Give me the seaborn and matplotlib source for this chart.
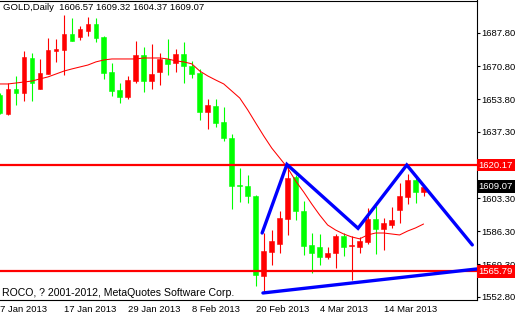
import numpy as np
import pandas as pd
import matplotlib
matplotlib.use("Agg")
import matplotlib.pyplot as plt
import seaborn as sns

# ---------------- data ----------------
dates = pd.bdate_range("2013-01-07", periods=54)
opens = [1656.1, 1646.3, 1659.1, 1657.1, 1675.0, 1659.1, 1666.8, 1678.6, 1679.1, 1687.3,
         1685.8, 1688.8, 1692.4, 1685.8, 1667.8, 1658.6, 1655.0, 1663.2, 1676.5, 1663.2,
         1667.8, 1674.5, 1672.4, 1677.0, 1670.9, 1667.3, 1647.4, 1650.4, 1642.2, 1634.0,
         1610.0, 1609.5, 1604.4, 1563.4, 1575.7, 1579.8, 1592.6, 1614.1, 1596.7, 1579.3,
         1578.3, 1573.1, 1575.2, 1583.9, 1578.8, 1578.3, 1580.8, 1592.6, 1587.5, 1589.5,
         1597.2, 1603.9, 1612.5, 1606.57]
highs = [1657.1, 1662.2, 1665.8, 1678.6, 1677.6, 1674.5, 1685.2, 1684.7, 1697.0, 1695.5,
         1691.4, 1696.0, 1695.5, 1686.3, 1672.4, 1662.2, 1665.8, 1683.7, 1680.6, 1682.2,
         1677.6, 1684.7, 1679.6, 1683.2, 1673.5, 1669.4, 1654.0, 1654.0, 1649.9, 1636.1,
         1618.7, 1615.1, 1604.9, 1585.4, 1586.9, 1596.7, 1620.5, 1615.1, 1601.8, 1585.4,
         1584.9, 1578.3, 1584.9, 1585.4, 1583.9, 1583.4, 1598.2, 1599.2, 1593.1, 1598.7,
         1611.0, 1615.6, 1615.1, 1609.32]
lows = [1646.3, 1645.8, 1650.9, 1653.0, 1653.0, 1659.1, 1666.8, 1673.0, 1666.3, 1683.7,
        1684.2, 1686.3, 1683.2, 1664.3, 1655.5, 1652.0, 1654.0, 1662.2, 1657.6, 1659.1,
        1661.2, 1666.3, 1667.8, 1662.2, 1664.8, 1643.3, 1638.7, 1639.7, 1632.5, 1597.7,
        1601.3, 1600.8, 1558.3, 1554.7, 1569.0, 1575.2, 1584.4, 1592.1, 1574.2, 1564.9,
        1569.0, 1572.1, 1567.5, 1573.6, 1561.4, 1575.2, 1579.8, 1574.7, 1576.7, 1588.0,
        1590.5, 1600.3, 1600.8, 1604.37]
closes = [1646.8, 1659.1, 1657.1, 1675.5, 1662.2, 1667.3, 1679.1, 1679.6, 1687.3, 1683.7,
          1689.9, 1692.4, 1685.2, 1667.3, 1658.1, 1655.0, 1663.7, 1676.5, 1663.2, 1666.8,
          1674.5, 1671.9, 1677.0, 1670.9, 1666.8, 1647.4, 1650.9, 1641.7, 1634.0, 1609.5,
          1609.5, 1604.4, 1563.9, 1576.2, 1581.3, 1593.1, 1613.6, 1596.7, 1578.8, 1575.2,
          1573.1, 1575.2, 1583.9, 1578.3, 1579.0, 1581.3, 1592.6, 1587.5, 1590.5, 1592.1,
          1604.4, 1612.5, 1606.4, 1609.07]
ma = [1661.7, 1661.7, 1662.2, 1662.7, 1663.2, 1664.3, 1665.3, 1666.8, 1668.3, 1669.4,
      1670.4, 1671.4, 1673.0, 1674.0, 1674.5, 1674.5, 1674.5, 1674.5, 1675.0, 1675.0,
      1675.0, 1674.5, 1673.5, 1673.0, 1672.0, 1668.3, 1665.8, 1663.7, 1661.7, 1658.1,
      1654.5, 1648.4, 1641.7, 1635.1, 1628.9, 1623.8, 1618.7, 1612.0, 1606.4, 1600.3,
      1594.6, 1589.5, 1586.9, 1584.9, 1583.4, 1582.4, 1584.4, 1585.4, 1585.4, 1584.9,
      1584.4, 1586.4, 1588.0, 1590.0]
levels = [1620.17, 1565.79]
last_price = 1609.07
pattern_x = [32.8, 35.9, 44.8, 50.9, 59.1]
pattern_y = [1585.4, 1620.5, 1587.8, 1620.2, 1579.3]
support_x = [32.9, 59.7]
support_y = [1554.7, 1567.0]
ytick_vals = [1552.80, 1569.30, 1586.30, 1603.30, 1620.30, 1637.30, 1653.80, 1670.80, 1687.80]
ytick_labels = ["1552.80", "1569.30", "1586.30", "1603.30", "", "1637.30",
                "1653.80", "1670.80", "1687.80"]
xtick_pos = [0, 8, 16, 24, 32, 40, 48]
xtick_labels = ["7 Jan 2013", "17 Jan 2013", "29 Jan 2013", "8 Feb 2013",
                "20 Feb 2013", "4 Mar 2013", "14 Mar 2013"]

# ---------------- figure ----------------
sns.set_style("white")
plt.rcParams['font.family'] = ['Liberation Sans', 'DejaVu Sans']
FS = 6.8
W, H = 521, 315
fig = plt.figure(figsize=(W / 100, H / 100), dpi=100)
ax = fig.add_axes([0, 15 / H, 476.5 / W, (300 - 0.5) / H])
ax.set_facecolor("white")

idx = np.arange(len(dates))
o = np.array(opens); c = np.array(closes)
up = c >= o
cols = np.where(up, "#FF0000", "#00FF00")
bottoms = np.minimum(o, c)
heights = np.maximum(np.abs(c - o), 0.3)

ax.vlines(idx, lows, highs, colors=cols, linewidth=0.8, zorder=2)
ax.bar(idx, heights, bottom=bottoms, width=0.6, color=cols, edgecolor=cols,
       linewidth=0.4, zorder=2.2)

sns.lineplot(x=idx, y=ma, color="#FF0000", linewidth=0.75, ax=ax, zorder=3)

for lv in levels:
    ax.axhline(lv, color="#FF0000", linewidth=1.6, zorder=4)

ax.plot(pattern_x, pattern_y, color="#0000FF", linewidth=2.4, zorder=5,
        solid_joinstyle="miter")
ax.plot(support_x, support_y, color="#0000FF", linewidth=2.4, zorder=5)

ax.set_xlim(0.0625, 59.625)
ax.set_ylim(1551.1, 1704.43)

# spines
for s in ["top", "right", "bottom"]:
    ax.spines[s].set_visible(True)
    ax.spines[s].set_color("black")
    ax.spines[s].set_linewidth(0.8)
ax.spines["left"].set_visible(False)

ax.yaxis.tick_right()
ax.set_yticks(ytick_vals)
ax.set_yticklabels(ytick_labels)
ax.tick_params(axis="y", which="both", direction="out", length=2.2, width=0.8,
               pad=1.5, labelsize=FS, colors="black", left=False, right=True)
ax.set_xticks(xtick_pos)
ax.set_xticklabels(xtick_labels)
ax.tick_params(axis="x", direction="out", length=2.2, width=0.8, pad=1.5,
               labelsize=FS, colors="black")
for lab in ax.get_xticklabels():
    lab.set_ha("left")
ax.set_xlabel(""); ax.set_ylabel("")

# price labels on the right axis
box_x = 1.0 + 2.0 / 476.5
for lv in levels:
    ax.text(box_x, lv, f"{lv:.2f}", transform=ax.get_yaxis_transform(),
            ha="left", va="center", fontsize=FS, color="white", clip_on=False,
            zorder=10,
            bbox=dict(boxstyle="square,pad=0.2", facecolor="#FF0000", edgecolor="none"))
ax.text(box_x, last_price, f"{last_price:.2f}", transform=ax.get_yaxis_transform(),
        ha="left", va="center", fontsize=FS, color="white", clip_on=False, zorder=10,
        bbox=dict(boxstyle="square,pad=0.2", facecolor="black", edgecolor="none"))

title = "GOLD,Daily  " + " ".join(f"{v:.2f}" for v in
                                 [opens[-1], highs[-1], lows[-1], closes[-1]])
fig.text(3 / W, 1 - 7.5 / H, title, ha="left", va="center", fontsize=FS, color="black")
fig.text(2 / W, 1 - 293 / H, "ROCO, ? 2001-2012, MetaQuotes Software Corp.",
         ha="left", va="center", fontsize=FS + 0.8, color="black")

fig.savefig("out.png", dpi=100, facecolor="white")
